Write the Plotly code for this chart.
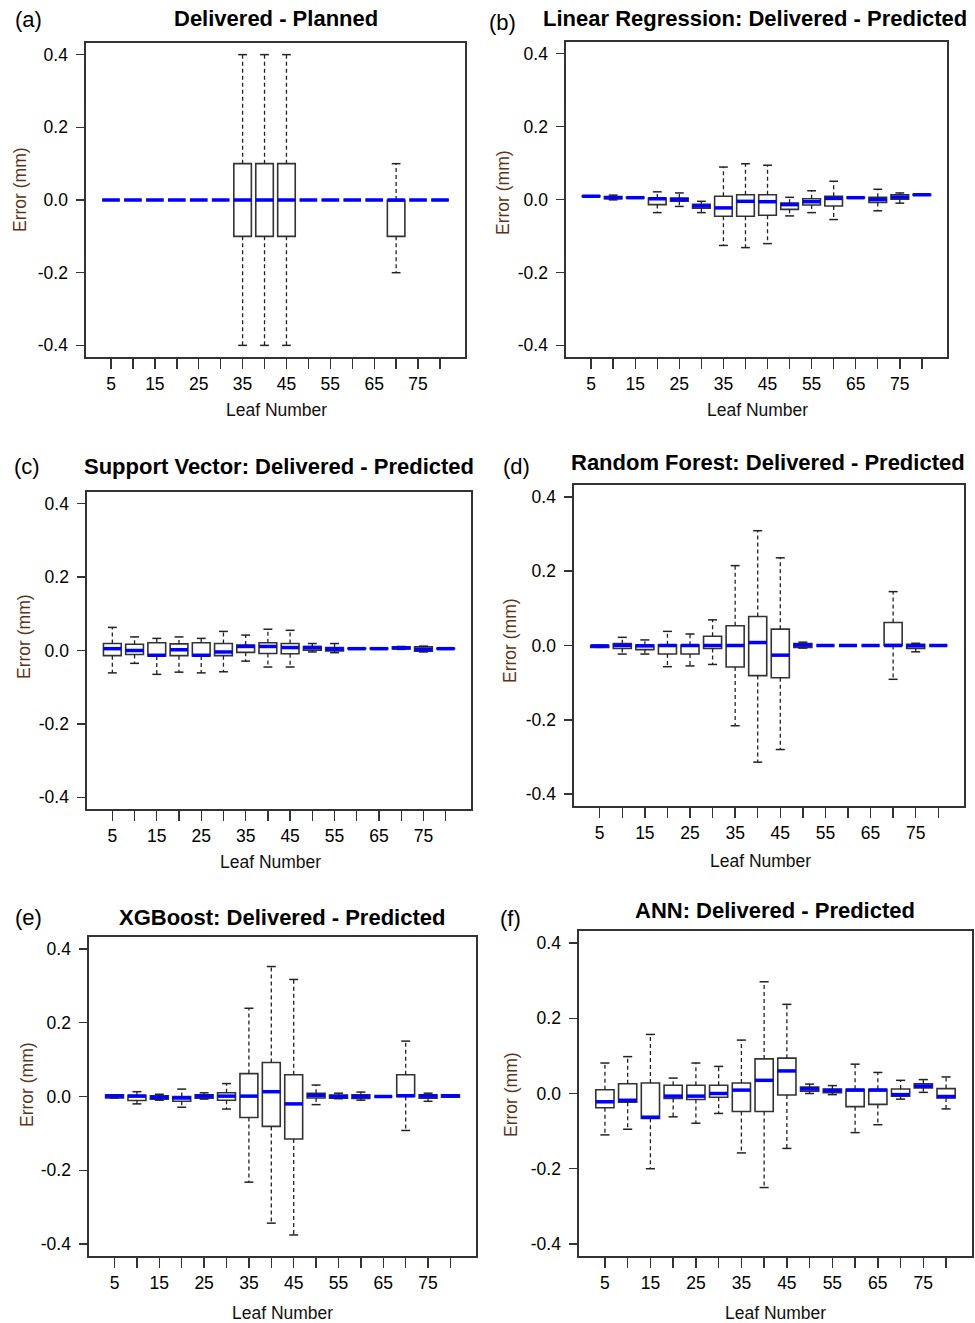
import plotly.graph_objects as go

# ---------------- data ----------------
LEAVES = [5, 10, 15, 20, 25, 30, 35, 40, 45, 50, 55, 60, 65, 70, 75, 80]
XTICK_TEXT = ["5", "", "15", "", "25", "", "35", "", "45", "", "55", "", "65", "", "75", ""]
YTICK_VALS = [-0.4, -0.2, 0.0, 0.2, 0.4]
YTICK_TEXT = ["-0.4", "-0.2", "0.0", "0.2", "0.4"]

TITLES = [
    "Delivered - Planned",
    "Linear Regression: Delivered - Predicted",
    "Support Vector: Delivered - Predicted",
    "Random Forest: Delivered - Predicted",
    "XGBoost: Delivered - Predicted",
    "ANN: Delivered - Predicted",
]
LETTERS = ["(a)", "(b)", "(c)", "(d)", "(e)", "(f)"]

# (a) Delivered - Planned
A_LO = [0, 0, 0, 0, 0, 0, -0.4, -0.4, -0.4, 0, 0, 0, 0, -0.2, 0, 0]
A_Q1 = [0, 0, 0, 0, 0, 0, -0.1, -0.1, -0.1, 0, 0, 0, 0, -0.1, 0, 0]
A_MED = [0, 0, 0, 0, 0, 0, 0, 0, 0, 0, 0, 0, 0, 0, 0, 0]
A_Q3 = [0, 0, 0, 0, 0, 0, 0.1, 0.1, 0.1, 0, 0, 0, 0, 0, 0, 0]
A_HI = [0, 0, 0, 0, 0, 0, 0.4, 0.4, 0.4, 0, 0, 0, 0, 0.1, 0, 0]

# (b) Linear Regression
B_LO = [0.008, -0.001, 0.004, -0.036, -0.019, -0.036, -0.126, -0.132, -0.121, -0.045, -0.036, -0.055, 0.004, -0.031, -0.010, 0.012]
B_Q1 = [0.008, 0.002, 0.004, -0.014, -0.005, -0.024, -0.046, -0.046, -0.043, -0.027, -0.015, -0.018, 0.004, -0.008, 0.001, 0.012]
B_MED = [0.009, 0.005, 0.005, 0.002, 0.0, -0.018, -0.023, -0.005, -0.006, -0.014, -0.006, 0.003, 0.005, 0.0, 0.0065, 0.013]
B_Q3 = [0.010, 0.008, 0.006, 0.004, 0.004, -0.013, 0.009, 0.013, 0.013, -0.010, 0.002, 0.009, 0.006, 0.006, 0.013, 0.014]
B_HI = [0.010, 0.012, 0.006, 0.021, 0.018, -0.005, 0.089, 0.098, 0.094, 0.006, 0.024, 0.050, 0.006, 0.028, 0.018, 0.014]

# (c) Support Vector
C_LO = [-0.061, -0.035, -0.065, -0.059, -0.061, -0.058, -0.029, -0.045, -0.045, -0.004, -0.006, 0.005, 0.005, 0.003, -0.004, 0.005]
C_Q1 = [-0.014, -0.011, -0.015, -0.014, -0.015, -0.014, -0.005, -0.008, -0.009, 0.001, -0.001, 0.005, 0.005, 0.004, -0.002, 0.005]
C_MED = [0.005, 0.0, -0.013, 0.002, -0.013, -0.004, 0.011, 0.011, 0.008, 0.008, 0.004, 0.005, 0.005, 0.007, 0.003, 0.005]
C_Q3 = [0.019, 0.017, 0.021, 0.018, 0.021, 0.019, 0.015, 0.021, 0.019, 0.011, 0.008, 0.006, 0.006, 0.010, 0.010, 0.006]
C_HI = [0.063, 0.037, 0.033, 0.037, 0.033, 0.052, 0.042, 0.058, 0.055, 0.019, 0.019, 0.006, 0.006, 0.011, 0.012, 0.006]

# (d) Random Forest
D_LO = [-0.005, -0.023, -0.023, -0.057, -0.055, -0.051, -0.216, -0.314, -0.280, -0.007, 0, 0, 0, -0.091, -0.017, 0]
D_Q1 = [-0.005, -0.008, -0.011, -0.023, -0.023, -0.008, -0.058, -0.081, -0.087, -0.005, 0, 0, 0, 0, -0.008, 0]
D_MED = [-0.001, 0.0, -0.001, 0.0, 0.0, 0.0, 0.0, 0.008, -0.026, 0.001, 0, 0, 0, 0, -0.001, 0]
D_Q3 = [0.0, 0.005, 0.001, 0.002, 0.001, 0.025, 0.053, 0.078, 0.044, 0.005, 0, 0, 0, 0.062, 0.003, 0]
D_HI = [0.0, 0.022, 0.015, 0.038, 0.031, 0.069, 0.215, 0.309, 0.236, 0.009, 0, 0, 0, 0.145, 0.006, 0]

# (e) XGBoost
E_LO = [-0.004, -0.020, -0.010, -0.029, -0.007, -0.034, -0.232, -0.343, -0.375, -0.022, -0.006, -0.010, 0, -0.092, -0.013, -0.002]
E_Q1 = [-0.004, -0.011, -0.007, -0.013, -0.0045, -0.010, -0.057, -0.081, -0.115, -0.004, -0.0045, -0.0055, 0, 0, -0.0045, -0.002]
E_MED = [0.001, 0.001, -0.002, -0.004, 0.001, 0.001, 0.001, 0.013, -0.020, 0.003, 0, 0, 0, 0.002, 0.001, 0.002]
E_Q3 = [0.0045, 0.003, 0.002, 0.0, 0.0045, 0.010, 0.062, 0.092, 0.059, 0.009, 0.004, 0.0045, 0, 0.059, 0.0045, 0.0045]
E_HI = [0.0045, 0.013, 0.006, 0.020, 0.010, 0.035, 0.239, 0.352, 0.317, 0.031, 0.009, 0.012, 0, 0.150, 0.009, 0.0045]

# (f) ANN
F_LO = [-0.110, -0.095, -0.200, -0.062, -0.079, -0.053, -0.158, -0.250, -0.146, 0.0, -0.003, -0.104, -0.083, -0.015, 0.003, -0.041]
F_Q1 = [-0.038, -0.023, -0.066, -0.013, -0.016, -0.010, -0.048, -0.048, -0.004, 0.006, 0.002, -0.035, -0.029, -0.007, 0.015, -0.012]
F_MED = [-0.022, -0.018, -0.063, -0.007, -0.007, 0.0, 0.009, 0.035, 0.060, 0.012, 0.008, 0.009, 0.009, -0.003, 0.020, -0.008]
F_Q3 = [0.010, 0.026, 0.028, 0.022, 0.022, 0.022, 0.028, 0.092, 0.094, 0.017, 0.012, 0.011, 0.011, 0.012, 0.026, 0.013]
F_HI = [0.081, 0.098, 0.157, 0.041, 0.081, 0.072, 0.142, 0.297, 0.237, 0.025, 0.021, 0.078, 0.056, 0.035, 0.037, 0.044]

PANELS = [
    (A_LO, A_Q1, A_MED, A_Q3, A_HI),
    (B_LO, B_Q1, B_MED, B_Q3, B_HI),
    (C_LO, C_Q1, C_MED, C_Q3, C_HI),
    (D_LO, D_Q1, D_MED, D_Q3, D_HI),
    (E_LO, E_Q1, E_MED, E_Q3, E_HI),
    (F_LO, F_Q1, F_MED, F_Q3, F_HI),
]

# ---------------- layout geometry (pixels) ----------------
W, H = 975, 1323
# plot frames: (left, right, top, bottom)
FRAMES = [
    (86, 465, 43, 357),
    (566, 947, 42, 357),
    (87, 471, 492, 809),
    (574, 964, 485, 806),
    (89, 476, 937, 1256),
    (579, 972, 931, 1256),
]
TITLE_POS = [(276, 19), (755, 18), (279, 466), (768, 462), (282, 917), (775, 910)]
LETTER_POS = [(28, 20), (502, 22), (27, 466), (516, 466), (28, 917), (511, 918)]
YLAB_POS = [(20, 190), (503, 192), (24, 637), (510, 641), (27, 1085), (511, 1094)]
XLAB_POS = [(276, 410), (757, 410), (270, 862), (760, 861), (282, 1313), (775, 1313)]

BOX_W = 4.0      # data units (0.8 of spacing)
CAP_HALF = 1.0   # staple half-width in data units
FONT = "Liberation Sans, Arial, sans-serif"
FRAME_COL = "#333333"


def px(x):
    return x / W


def py(y):
    return 1 - y / H


fig = go.Figure()
annotations = []

for i, (lo, q1, med, q3, hi) in enumerate(PANELS):
    n = "" if i == 0 else str(i + 1)
    xa, ya = "x" + n, "y" + n

    wx, wy, cx, cy, mx, my = [], [], [], [], [], []
    for x, l, a, m, b, h in zip(LEAVES, lo, q1, med, q3, hi):
        wx += [x, x, None, x, x, None]
        wy += [b, h, None, a, l, None]
        cx += [x - CAP_HALF, x + CAP_HALF, None, x - CAP_HALF, x + CAP_HALF, None]
        cy += [h, h, None, l, l, None]
        mx += [x - BOX_W / 2, x + BOX_W / 2, None]
        my += [m, m, None]

    fig.add_trace(go.Box(
        x=LEAVES, q1=q1, median=med, q3=q3, lowerfence=q1, upperfence=q3,
        width=BOX_W, orientation="v", fillcolor="white",
        line=dict(color=FRAME_COL, width=1.6), whiskerwidth=0,
        boxpoints=False, xaxis=xa, yaxis=ya, showlegend=False, hoverinfo="skip",
    ))
    fig.add_trace(go.Scatter(
        x=wx, y=wy, mode="lines", xaxis=xa, yaxis=ya, showlegend=False,
        line=dict(color="#222222", width=1.3, dash="4px,3px"), hoverinfo="skip",
    ))
    fig.add_trace(go.Scatter(
        x=cx, y=cy, mode="lines", xaxis=xa, yaxis=ya, showlegend=False,
        line=dict(color="#222222", width=1.5), hoverinfo="skip",
    ))
    fig.add_trace(go.Scatter(
        x=mx, y=my, mode="lines", xaxis=xa, yaxis=ya, showlegend=False,
        line=dict(color="#0000FF", width=3.5), hoverinfo="skip",
    ))

    L, R, T, B = FRAMES[i]
    axis_common = dict(
        showgrid=False, zeroline=False, showline=True, mirror=True,
        linecolor=FRAME_COL, linewidth=1.6, ticks="outside",
        tickcolor=FRAME_COL, tickwidth=1.4,
        tickfont=dict(family=FONT, size=17.5, color="#000000"),
        fixedrange=True,
    )
    fig.layout["xaxis" + n] = dict(
        axis_common, domain=[px(L), px(R)], anchor=ya, range=[-0.7, 85.7],
        tickmode="array", tickvals=LEAVES, ticktext=XTICK_TEXT, ticklen=10,
        ticklabelstandoff=0,
    )
    fig.layout["yaxis" + n] = dict(
        axis_common, domain=[py(B), py(T)], anchor=xa, range=[-0.432, 0.432],
        tickmode="array", tickvals=YTICK_VALS, ticktext=YTICK_TEXT, ticklen=8,
        ticklabelstandoff=5,
    )

    tx, ty = TITLE_POS[i]
    annotations.append(dict(
        x=px(tx), y=py(ty), xref="paper", yref="paper", showarrow=False,
        text="<b>" + TITLES[i] + "</b>", xanchor="center", yanchor="middle",
        font=dict(family=FONT, size=22, color="#000000"),
    ))
    lx, ly = LETTER_POS[i]
    annotations.append(dict(
        x=px(lx), y=py(ly), xref="paper", yref="paper", showarrow=False,
        text=LETTERS[i], xanchor="center", yanchor="middle",
        font=dict(family=FONT, size=22, color="#000000"),
    ))
    yx, yy = YLAB_POS[i]
    annotations.append(dict(
        x=px(yx), y=py(yy), xref="paper", yref="paper", showarrow=False,
        text="Error (mm)", textangle=-90, xanchor="center", yanchor="middle",
        font=dict(family=FONT, size=17.5, color="#5a3418"),
    ))
    xx, xy = XLAB_POS[i]
    annotations.append(dict(
        x=px(xx), y=py(xy), xref="paper", yref="paper", showarrow=False,
        text="Leaf Number", xanchor="center", yanchor="middle",
        font=dict(family=FONT, size=17.5, color="#111111"),
    ))

fig.update_layout(
    width=W, height=H, margin=dict(l=0, r=0, t=0, b=0),
    paper_bgcolor="white", plot_bgcolor="white", showlegend=False,
    annotations=annotations, font=dict(family=FONT),
)

fig.write_html(
    "out.html",
    config={"displayModeBar": False, "staticPlot": True},
    post_script="document.body.style.margin='0';document.body.style.padding='0';"
                "document.body.style.overflow='hidden';",
)
